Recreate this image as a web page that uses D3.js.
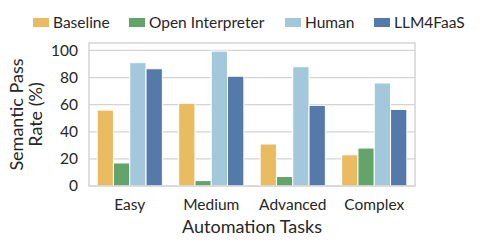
<!DOCTYPE html>
<html><head><meta charset="utf-8">
<script src="https://cdn.jsdelivr.net/npm/d3@7"></script>
<style>body{margin:0;background:#fff}svg{display:block}text{font-family:Lato,"DejaVu Sans",sans-serif;fill:#262626}</style>
</head><body><svg id="c" width="488" height="246"></svg>
<script>
const categories = ["Easy","Medium","Advanced","Complex"];
const seriesNames = ["Baseline","Open Interpreter","Human","LLM4FaaS"];
const baseline = [56, 61, 31, 23];
const openInterpreter = [17, 4, 7, 28];
const human = [91, 99.5, 88, 76];
const llm4faas = [86.5, 81, 59.5, 56.5];
const yTicks = [0,20,40,60,80,100];
const colors = ["#E9BC62","#62A46A","#A3C8DB","#5579A9"];
const seriesValues = [baseline, openInterpreter, human, llm4faas];

const svg = d3.select("#c");
const L=89, R=415, T=43, B=186;
const x = d3.scaleBand().domain(categories).range([L,R]).paddingInner(0.2).paddingOuter(0.1);
const xs = d3.scaleBand().domain(seriesNames).range([0,x.bandwidth()]);
const y = d3.scaleLinear().domain([0,105.5]).range([B,T]);

svg.append("g").selectAll("line").data(yTicks).join("line")
  .attr("x1",L).attr("x2",R).attr("y1",d=>y(d)).attr("y2",d=>y(d))
  .attr("stroke","#d4d4d4").attr("stroke-width",1.2);

seriesNames.forEach((s,i)=>{
  svg.append("g").selectAll("rect").data(categories).join("rect")
    .attr("x",c=>x(c)+xs(s)).attr("width",xs.bandwidth())
    .attr("y",(c,j)=>y(seriesValues[i][j])).attr("height",(c,j)=>B-y(seriesValues[i][j]))
    .attr("fill",colors[i]).attr("stroke","#fff").attr("stroke-width",1);
});

svg.append("rect").attr("x",L).attr("y",T).attr("width",R-L).attr("height",B-T)
  .attr("fill","none").attr("stroke","#d4d4d4").attr("stroke-width",1.5);

const ya = svg.append("g").attr("transform",`translate(${L},0)`)
  .call(d3.axisLeft(y).tickValues(yTicks).tickSize(0).tickPadding(11));
ya.select(".domain").remove();
ya.selectAll("text").style("font-size","15.5px").attr("fill","#262626");

const xa = svg.append("g").attr("transform",`translate(0,${B})`)
  .call(d3.axisBottom(x).tickSize(0).tickPadding(13));
xa.select(".domain").remove();
xa.selectAll("text").style("font-size","15.5px").attr("fill","#262626");

svg.append("text").attr("x",(L+R)/2).attr("y",233).attr("text-anchor","middle")
  .style("font-size","18px").text("Automation Tasks");
const yl = svg.append("text").attr("transform",`translate(0,${(T+B)/2}) rotate(-90)`)
  .attr("text-anchor","middle").style("font-size","18px");
yl.append("tspan").attr("x",0).attr("y",23).text("Semantic Pass");
yl.append("tspan").attr("x",0).attr("y",42).text("Rate (%)");

const legX = [33,129,285,374];
const lg = svg.append("g").selectAll("g").data(seriesNames).join("g")
  .attr("transform",(d,i)=>`translate(${legX[i]},18)`);
lg.append("rect").attr("width",16).attr("height",9).attr("fill",(d,i)=>colors[i]);
lg.append("text").attr("x",20).attr("y",10).style("font-size","15.5px").text(d=>d);
</script></body></html>
